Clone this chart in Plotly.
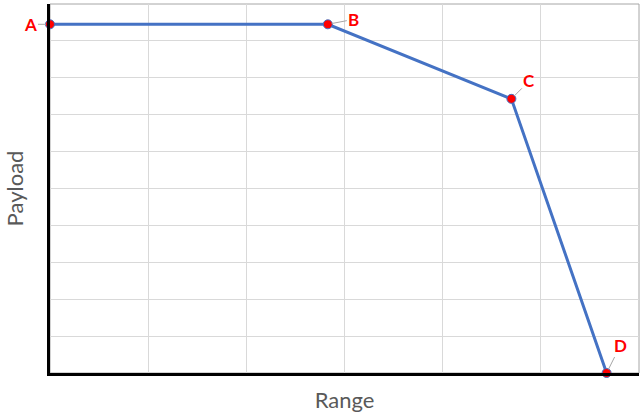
import plotly.graph_objects as go

# Data (arbitrary units, no tick labels shown)
point_labels = ["A", "B", "C", "D"]
range_values = [0.0, 2.83, 4.70, 5.67]
payload_values = [9.45, 9.45, 7.43, 0.0]
label_offsets_x = [-20, 26, 18, 14]
label_offsets_y = [0, -5, -18, -28]

FONT = "Lato, Liberation Sans, sans-serif"

fig = go.Figure()
fig.add_trace(go.Scatter(
    x=range_values, y=payload_values, mode="lines+markers",
    line=dict(color="#4472C4", width=3),
    marker=dict(color="#FF0000", size=9, line=dict(color="#4472C4", width=1)),
    showlegend=False, cliponaxis=False,
))

for lab, xv, yv, dx, dy in zip(point_labels, range_values, payload_values, label_offsets_x, label_offsets_y):
    fig.add_annotation(
        x=xv, y=yv, text=f"<b>{lab}</b>", showarrow=True, arrowhead=0,
        arrowcolor="#A6A6A6", arrowwidth=1, ax=dx, ay=dy, standoff=4,
        font=dict(color="#FF0000", size=17, family=FONT),
    )

# light grey border around the plot area (top/right)
fig.add_shape(type="rect", xref="x domain", yref="y domain", x0=0, y0=0, x1=1, y1=1,
              line=dict(color="#A6A6A6", width=1), layer="below")

fig.update_xaxes(
    range=[0, 6], dtick=1, showgrid=True, gridcolor="#D9D9D9", gridwidth=1,
    showticklabels=False, zeroline=False, ticks="",
    showline=True, linecolor="#000000", linewidth=3,
    title=dict(text="Range", font=dict(size=22, color="#595959", family=FONT), standoff=18),
)
fig.update_yaxes(
    range=[0, 10], dtick=1, showgrid=True, gridcolor="#D9D9D9", gridwidth=1,
    showticklabels=False, zeroline=False, ticks="",
    showline=True, linecolor="#000000", linewidth=3,
    title=dict(text="Payload", font=dict(size=22, color="#595959", family=FONT), standoff=18),
)

fig.update_layout(
    width=641, height=419,
    margin=dict(l=50, r=2, t=4, b=46, autoexpand=False),
    paper_bgcolor="white", plot_bgcolor="white",
)

fig.write_html("out.html", config={"displayModeBar": False},
               post_script="document.body.style.margin='0';")
